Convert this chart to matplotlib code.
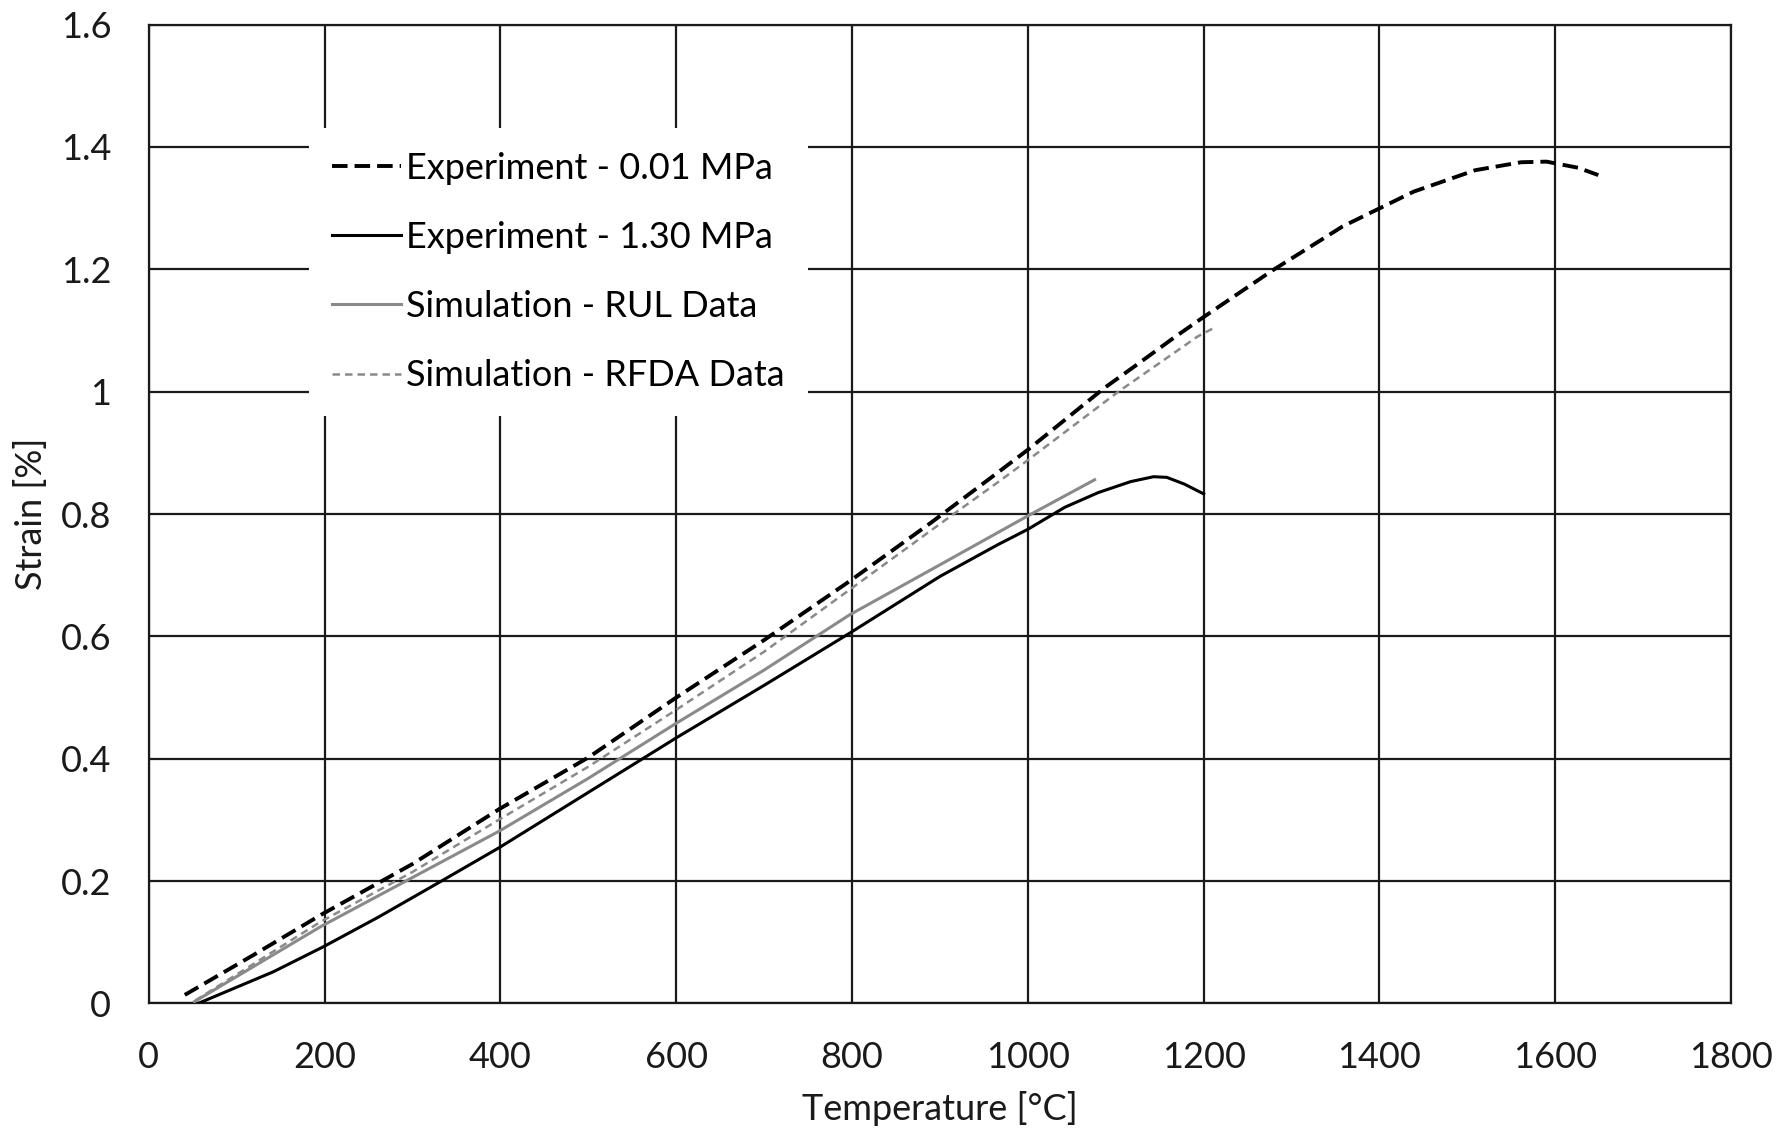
import matplotlib
matplotlib.use("Agg")
import matplotlib.pyplot as plt
import numpy as np

plt.rcParams['font.family'] = ['Lato', 'DejaVu Sans']

# Experiment - 0.01 MPa
exp001_T = [41, 120, 196, 300, 399, 500, 600, 700, 797, 890, 966, 1000,
            1087, 1123, 1166, 1200, 1277, 1358, 1439, 1509, 1561, 1590, 1626, 1649]
exp001_s = [0.014, 0.080, 0.145, 0.228, 0.318, 0.402, 0.500, 0.594, 0.690, 0.786,
            0.868, 0.905, 1.006, 1.043, 1.088, 1.122, 1.197, 1.270, 1.327,
            1.362, 1.375, 1.376, 1.366, 1.354]

# Experiment - 1.30 MPa
exp130_T = [56, 142, 199, 261, 334, 399, 500, 601, 700, 797, 900, 966, 1000,
            1042, 1080, 1117, 1143, 1158, 1178, 1200]
exp130_s = [0.0, 0.052, 0.093, 0.141, 0.201, 0.255, 0.345, 0.435, 0.520, 0.605,
            0.698, 0.750, 0.775, 0.811, 0.835, 0.853, 0.861, 0.860, 0.849, 0.833]

# Simulation - RUL Data
rul_T = [52, 196, 399, 500, 600, 700, 797, 900, 1000, 1076]
rul_s = [0.003, 0.126, 0.282, 0.368, 0.458, 0.545, 0.635, 0.717, 0.797, 0.856]

# Simulation - RFDA Data
rfda_T = [53, 196, 300, 399, 500, 600, 700, 797, 905, 966, 1000, 1103, 1193, 1210]
rfda_s = [0.005, 0.134, 0.215, 0.301, 0.387, 0.480, 0.575, 0.676, 0.789, 0.852,
          0.888, 1.000, 1.090, 1.103]

xticks = np.arange(0, 1801, 200)
yticks = [0, 0.2, 0.4, 0.6, 0.8, 1.0, 1.2, 1.4, 1.6]
yticklabels = ['0', '0.2', '0.4', '0.6', '0.8', '1', '1.2', '1.4', '1.6']

fig = plt.figure(figsize=(17.92, 11.33), dpi=100)
ax = fig.add_axes([0.083, 0.1143, 0.883, 0.864])

ax.plot(exp001_T, exp001_s, color='black', lw=2.8, linestyle=(0, (4, 1.8)),
        label='Experiment - 0.01 MPa', zorder=4)
ax.plot(exp130_T, exp130_s, color='black', lw=2.2, label='Experiment - 1.30 MPa', zorder=4)
ax.plot(rul_T, rul_s, color='#8a8a8a', lw=2.2, label='Simulation - RUL Data', zorder=3)
ax.plot(rfda_T, rfda_s, color='#8a8a8a', lw=1.8, linestyle=(0, (3, 2)),
        label='Simulation - RFDA Data', zorder=3)

ax.set_xlim(0, 1800)
ax.set_ylim(0, 1.6)
ax.set_xticks(xticks)
ax.set_yticks(yticks)
ax.set_yticklabels(yticklabels)
ax.grid(True, color='#1a1a1a', lw=1.6)
ax.set_axisbelow(True)
for sp in ax.spines.values():
    sp.set_color('#1a1a1a')
    sp.set_linewidth(1.6)
ax.tick_params(length=0, labelsize=26, colors='#1a1a1a')
ax.tick_params(axis='x', pad=27)
ax.tick_params(axis='y', pad=27)

ax.set_xlabel('Temperature [°C]', fontsize=26, labelpad=12, color='#1a1a1a')
ax.set_ylabel('Strain [%]', fontsize=26, labelpad=9, color='#1a1a1a')

leg = ax.legend(loc='upper left', bbox_to_anchor=(0.101, 0.894), fontsize=26,
                frameon=True, fancybox=False, framealpha=1, facecolor='white',
                edgecolor='none', handlelength=1.9, handletextpad=0.15,
                labelspacing=1.0, borderpad=0.65, borderaxespad=0)
leg.set_zorder(5)

fig.savefig('out.png', dpi=100, facecolor='white')
